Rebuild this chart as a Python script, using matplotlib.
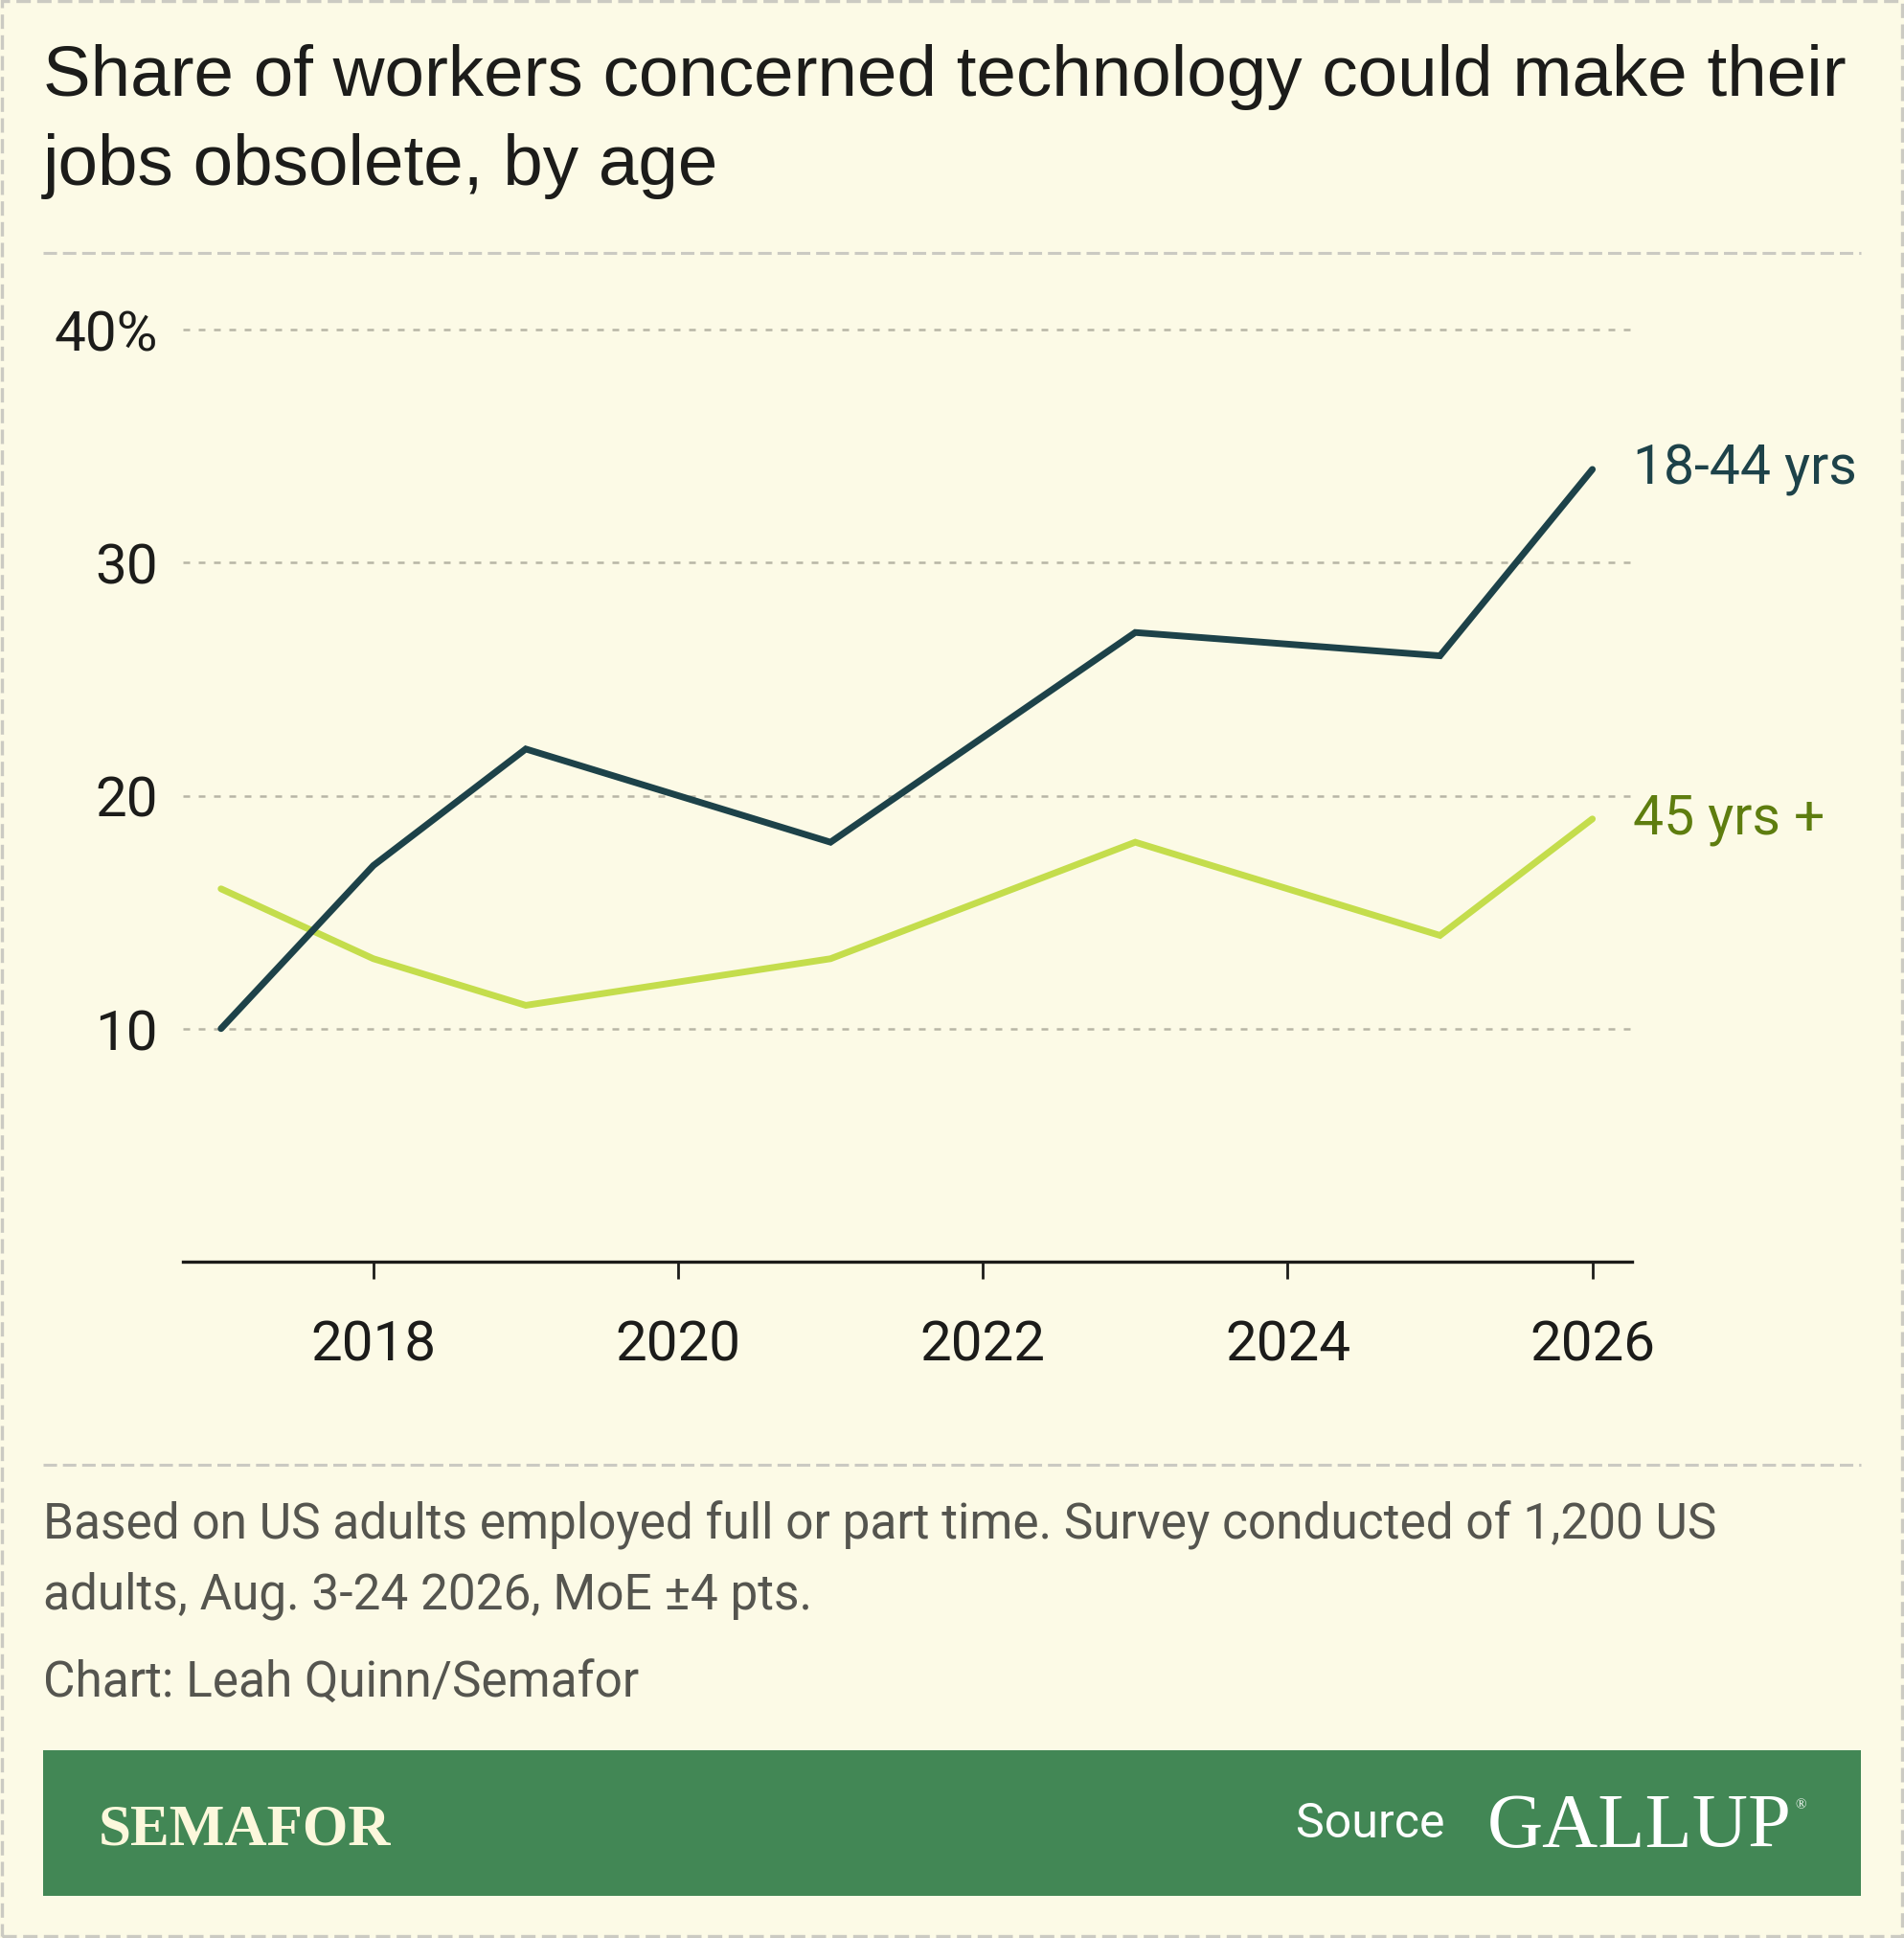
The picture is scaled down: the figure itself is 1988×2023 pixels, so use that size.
import matplotlib

matplotlib.use("Agg")
import matplotlib.pyplot as plt
from matplotlib.lines import Line2D
from matplotlib.patches import Rectangle

# --- data ---
years = [2017, 2018, 2019, 2021, 2023, 2025, 2026]
young = [10, 17, 22, 18, 27, 26, 34]   # 18-44 yrs
older = [16, 13, 11, 13, 18, 14, 19]   # 45 yrs +
series_labels = ["18-44 yrs", "45 yrs +"]
x_ticks = [2018, 2020, 2022, 2024, 2026]
y_ticks = [10, 20, 30, 40]
y_tick_labels = ["10", "20", "30", "40%"]

title_lines = ["Share of workers concerned technology could make their",
               "jobs obsolete, by age"]
note_lines = ["Based on US adults employed full or part time. Survey conducted of 1,200 US",
              "adults, Aug. 3-24 2026, MoE \u00b14 pts."]
credit = "Chart: Leah Quinn/Semafor"

BG = "#FCFAE6"
DARK = "#1D4249"
LIGHT = "#C4DD4C"
LIGHT_TXT = "#5E7D0F"
GRID = "#B8B5A6"
SEP = "#CBCAC2"
GREEN = "#428755"
NOTE = "#55554F"
COND = ["Liberation Sans Narrow", "Roboto", "DejaVu Sans"]

W, H = 1988, 2024
fig = plt.figure(figsize=(W / 100, H / 100), dpi=100, facecolor=BG)


def fx(px):
    return px / W


def fy(py):
    return 1 - py / H


# outer dashed border
fig.add_artist(Rectangle((fx(2), fy(H - 2)), fx(W - 4), fy(2) - fy(H - 2),
                         transform=fig.transFigure, fill=False, edgecolor=SEP,
                         lw=2.4, ls=(0, (4.5, 2))))

# title
for i, line in enumerate(title_lines):
    fig.text(fx(45), fy(100 + i * 93), line, fontsize=53.7, color="#1C1C1A",
             family=["Liberation Sans", "DejaVu Sans"], va="baseline", ha="left")

# separators
for yy in (265, 1530):
    fig.add_artist(Line2D([fx(45), fx(1943)], [fy(yy), fy(yy)], transform=fig.transFigure,
                          color=SEP, lw=2.2, ls=(0, (4.6, 2))))

# chart
ax = fig.add_axes([fx(191), fy(1318), fx(1704 - 191), fy(345) - fy(1318)])
ax.set_facecolor(BG)
ax.plot(years, older, color=LIGHT, lw=5, solid_capstyle="round", solid_joinstyle="miter", zorder=3)
ax.plot(years, young, color=DARK, lw=5, solid_capstyle="round", solid_joinstyle="miter", zorder=4)
ax.set_xlim(2016.75, 2026.26)
ax.set_ylim(0, 40)

for v in y_ticks:
    ax.axhline(v, color=GRID, lw=1.8, ls=(0, (2.8, 3.6)), zorder=1, clip_on=False)

for s in ("top", "right", "left"):
    ax.spines[s].set_visible(False)
ax.spines["bottom"].set_color("#1C1C1A")
ax.spines["bottom"].set_linewidth(2.4)

ax.set_xticks(x_ticks)
ax.set_xticklabels([str(t) for t in x_ticks])
ax.set_yticks(y_ticks)
ax.set_yticklabels(y_tick_labels)
ax.tick_params(axis="x", length=13, width=2, color="#1C1C1A", pad=30,
               labelsize=42, labelcolor="#1C1C1A")
ax.tick_params(axis="y", length=0, pad=19, labelsize=42, labelcolor="#1C1C1A")
for lab in ax.get_xticklabels() + ax.get_yticklabels():
    lab.set_family(COND)

ax.annotate(series_labels[0], xy=(1.0, young[-1]), xycoords=("axes fraction", "data"),
            xytext=(1, 0), textcoords="offset points", ha="left", va="center",
            fontsize=41, color=DARK, family=COND, annotation_clip=False)
ax.annotate(series_labels[1], xy=(1.0, older[-1]), xycoords=("axes fraction", "data"),
            xytext=(1, 0), textcoords="offset points", ha="left", va="center",
            fontsize=41, color=LIGHT_TXT, family=COND, annotation_clip=False)

# footnote
for i, line in enumerate(note_lines):
    fig.text(fx(45), fy(1607 + i * 73), line, fontsize=37, color=NOTE, family=COND,
             va="baseline", ha="left")
fig.text(fx(45), fy(1772), credit, fontsize=37, color=NOTE, family=COND,
         va="baseline", ha="left")

# banner
fig.add_artist(Rectangle((fx(45), fy(1980)), fx(1943 - 45), fy(1828) - fy(1980),
                         transform=fig.transFigure, facecolor=GREEN, edgecolor="none"))
fig.text(fx(103), fy(1926), "SEMAFOR", fontsize=44, fontweight="bold", color="#FCF8DC",
         family=["Liberation Serif", "DejaVu Serif"], va="baseline", ha="left")
fig.text(fx(1353), fy(1904), "Source", fontsize=36, color="white", family=COND,
         va="center", ha="left")
fig.text(fx(1553), fy(1928), "GALLUP", fontsize=58, color="white",
         family=["Liberation Serif", "DejaVu Serif"], va="baseline", ha="left")
fig.text(fx(1874), fy(1888), "\u00ae", fontsize=11, color="white",
         family=["Liberation Serif", "DejaVu Serif"], va="baseline", ha="left")

fig.savefig("out.png", dpi=100, facecolor=BG)
